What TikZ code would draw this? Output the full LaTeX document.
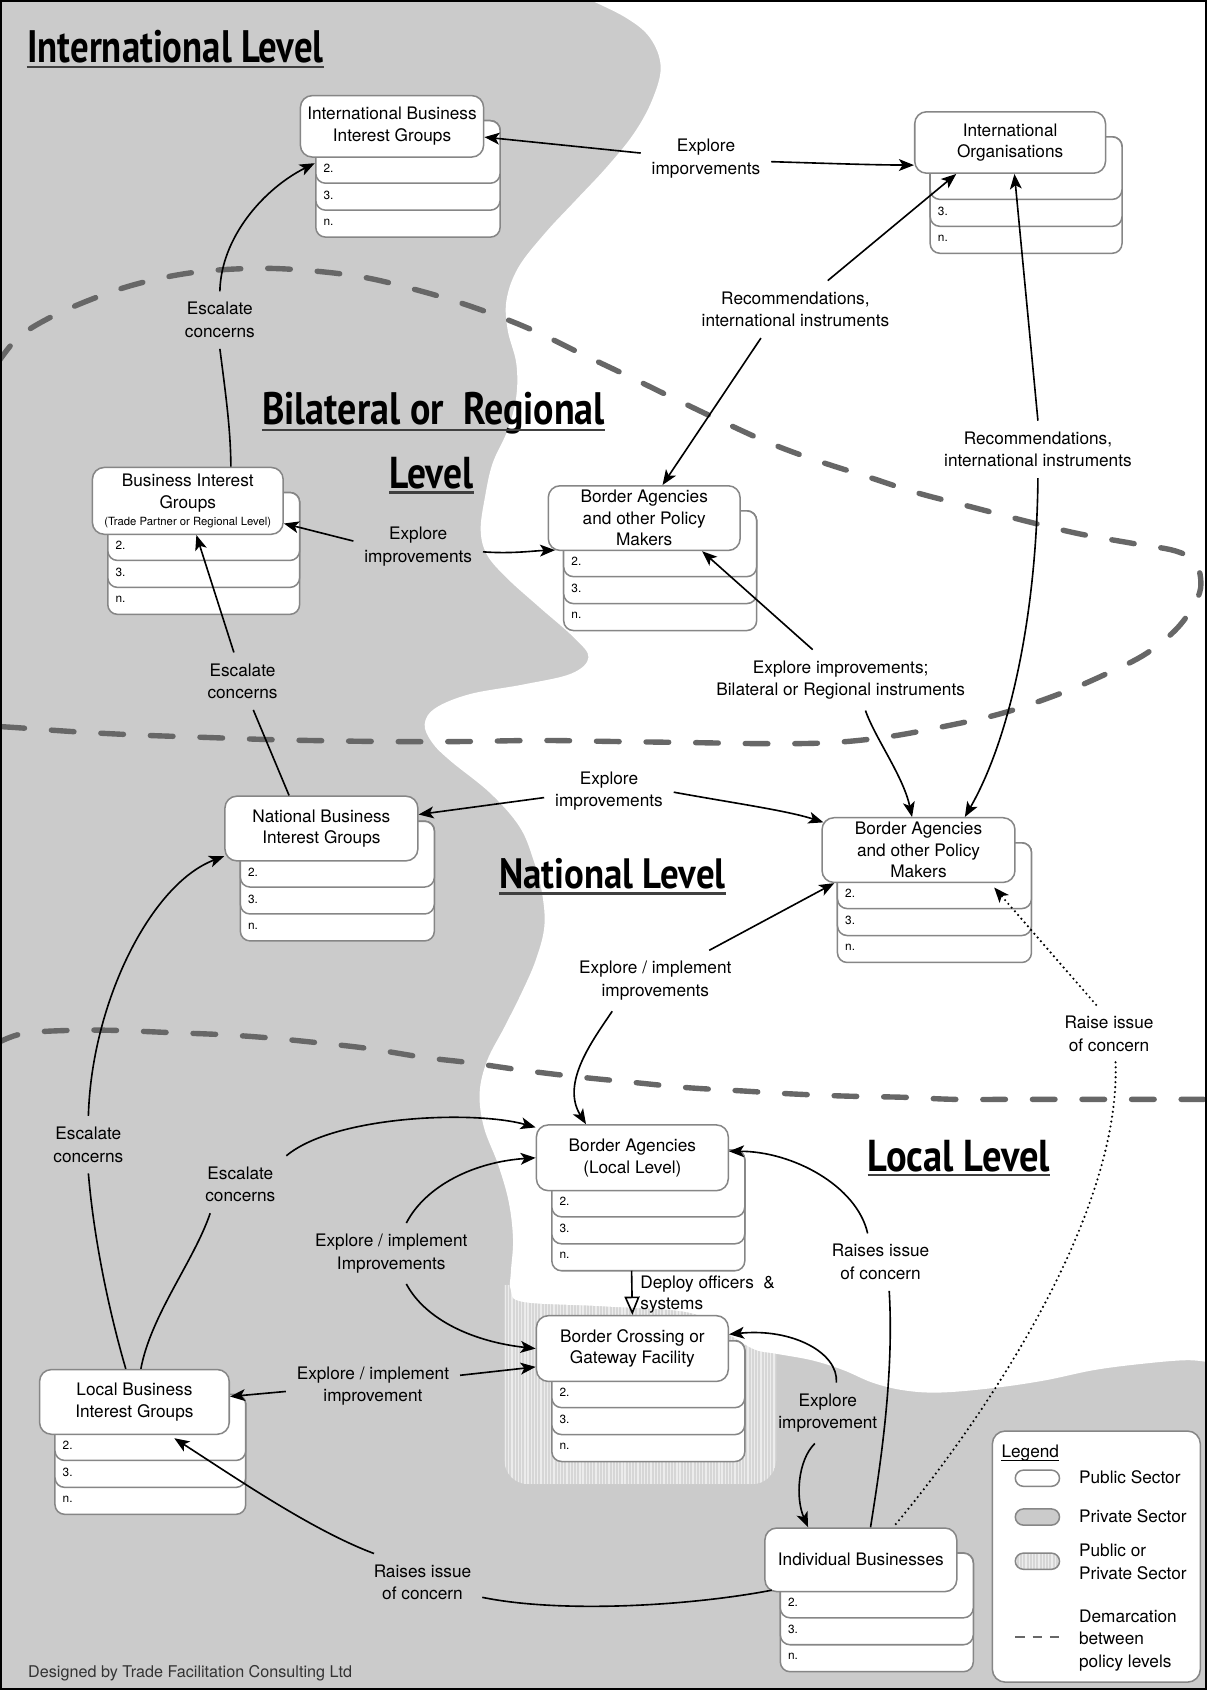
\documentclass[tikz,border=0pt]{standalone}
\usepackage{graphicx}
\usepackage{fontspec}
\setmainfont{TeX Gyre Heros}
\newfontfamily\titlefont{PT Sans}
\usetikzlibrary{arrows.meta}
\definecolor{bggray}{HTML}{CBCBCB}
\definecolor{boxgray}{HTML}{868686}
\definecolor{dashgray}{HTML}{676767}
\definecolor{stripebase}{HTML}{D6D6D6}
\tikzset{
 stackbox/.style={draw=boxgray, fill=white, line width=1.4pt, rounded corners=9pt},
 mainbox/.style={draw=boxgray, fill=white, line width=1.4pt, rounded corners=11pt, align=center, font=\fontsize{16}{20}\selectfont, inner sep=2pt},
 numlbl/.style={anchor=west, inner sep=0pt, font=\fontsize{11}{13}\selectfont},
 lbl/.style={align=center, font=\fontsize{16}{21}\selectfont, inner sep=10pt},
 conn/.style={draw=black, line width=1.5pt},
 arr/.style={conn, -{Stealth[length=14pt,width=11pt,inset=3.5pt]}},
 dotline/.style={draw=black, line width=2.2pt, line cap=round, dash pattern=on 0pt off 4.6pt},
 dotarr/.style={dotline, -{Stealth[length=14pt,width=11pt,inset=3.5pt]}},
 openarr/.style={conn, -{Triangle[open,length=17pt,width=14pt]}},
 demarc/.style={draw=dashgray, line width=5pt, line cap=round, dash pattern=on 21pt off 25pt},
 ttl/.style={anchor=base west, inner sep=0pt},
 uline/.style={draw=black!75, line width=2pt},
 legtxt/.style={anchor=base west, inner sep=0pt, font=\fontsize{16}{20}\selectfont},
 pill/.style={draw=boxgray, line width=1.4pt, rounded corners=7.5pt},
}
% #1 name, #2 x, #3 y, #4 w, #5 h, #6 text, #7 second label
\newcommand\stk[7]{%
 \path[stackbox] (#2+15,#3+24) rectangle (#2+#4+16,#3+#5+75);
 \path[stackbox] (#2+15,#3+24) rectangle (#2+#4+16,#3+#5+50);
 \path[stackbox] (#2+15,#3+24) rectangle (#2+#4+16,#3+#5+25);
 \node[mainbox, minimum width=#4pt, minimum height=#5pt, anchor=north west] (#1) at (#2,#3) {#6};
 \node[numlbl] at (#2+22,#3+#5+11) {#7};
 \node[numlbl] at (#2+22,#3+#5+36) {3.};
 \node[numlbl] at (#2+22,#3+#5+61) {n.};
 \coordinate (#1-bot) at (#2+#4/2,#3+#5+75);
}
\begin{document}
\begin{tikzpicture}[x=1pt,y=-1pt]
\useasboundingbox (0,0) rectangle (1120,1568);
\fill[bggray] (0,0) rectangle (1120,1568);
% public or private (striped) area
\fill[stripebase, rounded corners=22pt] (468,1192) -- (468,1377) -- (720,1377) -- (720,1192);
\begin{scope}
\clip[rounded corners=22pt] (468,1192) -- (468,1377) -- (720,1377) -- (720,1192);
\foreach \i in {0,...,84} \draw[white, opacity=0.55, line width=1.2pt] (469+\i*3,1192) -- (469+\i*3,1377);
\end{scope}
% public sector (white) area
\fill[white] plot[smooth, tension=0.6] coordinates {(543,-2) (580,16) (603,35) (613,62) (605,93) (588,124) (563,155) (534,186) (506,216) (481,248) (470,278) (471,306) (479,337) (479,368) (471,399) (457,430) (450,461) (446,492) (452,515) (471,537) (500,563) (533,592) (546,610) (530,625) (486,635) (436,644) (404,657) (394,672) (401,689) (418,706) (455,736) (482,767) (495,798) (503,829) (505,860) (497,891) (484,921) (468,953) (452,984) (445,1014) (449,1046) (462,1080) (472,1115) (476,1150) (474,1180) (474,1197) (486,1208) (560,1212) (640,1218) (676,1238) (700,1252) (720,1256) (753,1262) (782,1271) (810,1283) (839,1290) (872,1292) (920,1288) (968,1281) (1016,1271) (1063,1265) (1101,1262) (1122,1264)} -- (1122,-2) -- cycle;
% demarcation lines
\draw[demarc] plot[smooth, tension=0.6] coordinates {(-3,338) (15,315) (40,298) (79,280) (125,264) (178,253) (236,249) (286,251) (336,257) (379,267) (421,279) (464,294) (500,309) (543,330) (585,350) (628,371) (672,392) (714,411) (757,427) (807,443) (850,457) (900,470) (950,483) (1000,495) (1050,504) (1090,511) (1108,521) (1114,537) (1111,555) (1093,582) (1064,606) (1029,624) (985,643) (929,662) (871,675) (821,684) (771,689) (714,690) (643,689) (572,688) (500,687) (429,688) (357,688) (286,687) (243,686) (186,684) (129,682) (71,679) (14,675) (-3,674)};
\draw[demarc] plot[smooth, tension=0.6] coordinates {(-3,968) (21,959) (64,956) (107,956) (157,958) (207,960) (250,963) (300,968) (343,973) (393,981) (436,986) (485,993) (535,999) (585,1004) (636,1009) (686,1012) (736,1015) (786,1017) (836,1018) (886,1020) (936,1020) (986,1020) (1036,1020) (1086,1020) (1123,1020)};
% level titles
\node[ttl] (tIntl) at (25,58) {\resizebox{275pt}{30pt}{\titlefont\bfseries International Level}};
\draw[uline] ([yshift=-4pt]tIntl.base west) -- ([yshift=-4pt]tIntl.base east);
\node[ttl] (tBil) at (243,394) {\resizebox{318pt}{30pt}{\titlefont\bfseries Bilateral or\ \ Regional}};
\draw[uline] ([yshift=-5pt]tBil.base west) -- ([yshift=-5pt]tBil.base east);
\node[ttl] (tBilL) at (361,453) {\resizebox{78pt}{29pt}{\titlefont\bfseries Level}};
\draw[uline] ([yshift=-4pt]tBilL.base west) -- ([yshift=-4pt]tBilL.base east);
\node[ttl] (tNat) at (463,824) {\resizebox{210pt}{28pt}{\titlefont\bfseries National Level}};
\draw[uline] ([yshift=-5pt]tNat.base west) -- ([yshift=-5pt]tNat.base east);
\node[ttl] (tLoc) at (805,1087) {\resizebox{169pt}{29pt}{\titlefont\bfseries Local Level}};
\draw[uline] ([yshift=-3pt]tLoc.base west) -- ([yshift=-3pt]tLoc.base east);
% stacked boxes
\stk{IBIG}{278}{88}{170}{57}{International Business\\Interest Groups}{2.}
\stk{IO}{848}{103}{177}{57}{International\\Organisations}{}
\stk{BIG}{85}{433}{177}{62}{Business Interest\\Groups\\[-4pt]{\fontsize{10.5}{12}\selectfont(Trade Partner or Regional Level)}}{2.}
\stk{BAR}{508}{450}{178}{60}{Border Agencies\\and other Policy\\Makers}{2.}
\stk{NBIG}{208}{738}{179}{60}{National Business\\Interest Groups}{2.}
\stk{BAN}{762}{758}{179}{60}{Border Agencies\\and other Policy\\Makers}{2.}
\stk{BAL}{497}{1043}{178}{61}{Border Agencies\\(Local Level)}{2.}
\stk{BCG}{497}{1220}{178}{61}{Border Crossing or\\Gateway Facility}{2.}
\stk{LBIG}{36}{1270}{176}{60}{Local Business\\Interest Groups}{2.}
\stk{IB}{709}{1417}{178}{59}{Individual Businesses}{2.}
% legend
\node[draw=boxgray, fill=white, line width=1.4pt, rounded corners=12pt, minimum width=193pt, minimum height=233pt, anchor=north west, inner sep=0pt] (legend) at (920,1327) {};
\node[legtxt] (legT) at (929,1352) {Legend};
\draw[line width=1pt] ([yshift=-3pt]legT.base west) -- ([yshift=-3pt]legT.base east);
\draw[pill, fill=white] (942,1364) rectangle (983,1379);
\draw[pill, fill=bggray] (942,1400) rectangle (983,1415);
\fill[stripebase, rounded corners=7.5pt] (942,1441) rectangle (983,1456);
\begin{scope}
\clip[rounded corners=7.5pt] (942,1441) rectangle (983,1456);
\foreach \i in {0,...,14} \draw[white, opacity=0.55, line width=1.2pt] (943+\i*3,1441) -- (943+\i*3,1456);
\end{scope}
\draw[pill] (942,1441) rectangle (983,1456);
\draw[dashgray, line width=1.6pt, dash pattern=on 9pt off 7pt] (942,1519) -- (984,1519);
\node[legtxt] at (1001,1376) {Public Sector};
\node[legtxt] at (1001,1413) {Private Sector};
\node[legtxt] at (1001,1444) {Public or};
\node[legtxt] at (1001,1465) {Private Sector};
\node[legtxt] at (1001,1505) {Demarcation};
\node[legtxt] at (1001,1526) {between};
\node[legtxt] at (1001,1547) {policy levels};
\node[anchor=base west, inner sep=0pt, font=\fontsize{15}{18}\selectfont, text=black!80] (foot) at (26,1556) {Designed by Trade Facilitation Consulting Ltd};
% labels
\node[lbl] (lblA) at (655,147) {Explore\\imporvements};
\node[lbl] (lblRec1) at (738,287) {Recommendations,\\international instruments};
\node[lbl] (lblRec2) at (963,417) {Recommendations,\\international instruments};
\node[lbl] (lblB) at (388,507) {Explore\\improvements};
\node[lbl] (lblE1) at (204,297) {Escalate\\concerns};
\node[lbl] (lblE2) at (225,632) {Escalate\\concerns};
\node[lbl] (lblBR) at (780,631) {Explore improvements;\\Bilateral or Regional instruments};
\node[lbl] (lblN) at (565,734) {Explore\\improvements};
\node[lbl] (lblEI1) at (608,910) {Explore / implement\\improvements};
\node[lbl] (lblR1) at (1029,959) {Raise issue\\of concern};
\node[lbl] (lblE3) at (223,1099) {Escalate\\concerns};
\node[lbl] (lblE4) at (82,1062) {Escalate\\concerns};
\node[lbl] (lblEI2) at (363,1163) {Explore / implement\\Improvements};
\node[lbl] (lblEI3) at (346,1286) {Explore / implement\\improvement};
\node[lbl] (lblR2) at (817,1171) {Raises issue\\of concern};
\node[lbl] (lblEI4) at (768,1311) {Explore\\improvement};
\node[lbl] (lblR3) at (392,1468) {Raises issue\\of concern};
\node[anchor=west, align=left, inner sep=0pt, font=\fontsize{16}{20}\selectfont] (lblDep) at (594,1201) {Deploy officers\ \ \&\\systems};
% connectors
\draw[arr] ([yshift=5pt]lblA.west) -- ([yshift=-10pt]IBIG.east);
\draw[arr] ([yshift=-3pt]lblA.east) .. controls (780,152) and (810,153) .. ([yshift=-21pt]IO.west);
\draw[arr] ([xshift=30pt]lblRec1.north) -- ([xshift=-50pt]IO.south);
\draw[arr] ([xshift=-32pt]lblRec1.south) -- ([xshift=17pt]BAR.north);
\draw[arr] (lblRec2.north) -- ([xshift=4pt]IO.south);
\draw[arr] (lblRec2.south) .. controls (962,560) and (940,680) .. ([xshift=43pt]BAN.north);
\draw[arr] ([yshift=5pt]lblB.west) -- ([yshift=-21pt]BIG.east);
\draw[arr] ([yshift=-5pt]lblB.east) .. controls (475,514) and (495,511) .. ([xshift=7pt,yshift=1pt]BAR.south west);
\draw[arr] (lblE1.north) .. controls (205,220) and (245,175) .. ([xshift=14pt,yshift=-5pt]IBIG.south west);
\draw[conn] (lblE1.south) .. controls (210,370) and (214,400) .. ([xshift=40pt]BIG.north);
\draw[arr] ([xshift=-8pt]lblE2.north) -- ([xshift=8pt]BIG.south);
\draw[conn] ([xshift=10pt]lblE2.south) -- ([xshift=-30pt]NBIG.north);
\draw[arr] ([xshift=-26pt]lblBR.north) -- ([xshift=-36pt]BAR.south east);
\draw[arr] ([xshift=23pt]lblBR.south) .. controls (812,685) and (838,720) .. ([xshift=-6pt]BAN.north);
\draw[arr] ([yshift=-6pt]lblN.west) -- ([yshift=13pt]NBIG.east);
\draw[arr] ([yshift=-1pt]lblN.east) .. controls (680,745) and (730,752) .. ([xshift=2pt,yshift=-5pt]BAN.north west);
\draw[arr] ([xshift=50pt]lblEI1.north) -- ([xshift=12pt]BAN.south west);
\draw[arr] ([xshift=-40pt]lblEI1.south) .. controls (550,965) and (520,1005) .. ([xshift=-43pt]BAL.north);
\draw[dotarr] ([xshift=-12pt]lblR1.north) -- ([xshift=-20pt,yshift=-4pt]BAN.south east);
\draw[dotline] ([xshift=6pt]lblR1.south) .. controls (1040,1130) and (910,1320) .. ([xshift=30pt]IB.north);
\draw[arr] (lblE3.north east) .. controls (310,1035) and (440,1030) .. ([yshift=-3pt]BAL.north west);
\draw[conn] ([xshift=-28pt]lblE3.south) .. controls (180,1170) and (140,1220) .. ([xshift=6pt]LBIG.north);
\draw[arr] (lblE4.north) .. controls (85,930) and (140,820) .. ([yshift=5pt]NBIG.south west);
\draw[conn] (lblE4.south) .. controls (88,1160) and (105,1230) .. ([xshift=-8pt]LBIG.north);
\draw[arr] ([xshift=14pt]lblEI2.north) .. controls (395,1100) and (440,1078) .. (BAL.west);
\draw[arr] ([xshift=14pt]lblEI2.south) .. controls (395,1225) and (440,1245) .. (BCG.west);
\draw[arr] ([yshift=-5pt]lblEI3.west) -- ([yshift=5pt]LBIG.east);
\draw[arr] ([yshift=10pt]lblEI3.east) -- ([yshift=-17pt]BCG.west);
\draw[openarr] (BAL-bot) -- (BCG.north);
\draw[arr] ([xshift=-12pt]lblR2.north) .. controls (795,1100) and (735,1068) .. ([yshift=6pt]BAL.east);
\draw[conn] ([xshift=8pt]lblR2.south) .. controls (830,1280) and (815,1370) .. ([xshift=9pt]IB.north);
\draw[arr] ([xshift=8pt]lblEI4.north) .. controls (778,1255) and (735,1232) .. ([yshift=-18pt]BCG.north east);
\draw[arr] ([xshift=-12pt]lblEI4.south) .. controls (740,1355) and (738,1390) .. ([xshift=-49pt]IB.north);
\draw[conn] ([yshift=-14pt]lblR3.east) .. controls (520,1497) and (640,1490) .. ([xshift=7pt,yshift=2pt]IB.south west);
\draw[arr] ([xshift=-45pt]lblR3.north) .. controls (290,1420) and (220,1372) .. ([xshift=37pt,yshift=-3pt]LBIG.south);
% frame
\draw[black, line width=2.2pt] (1.1,1.1) rectangle (1118.9,1566.9);
\end{tikzpicture}
\end{document}
